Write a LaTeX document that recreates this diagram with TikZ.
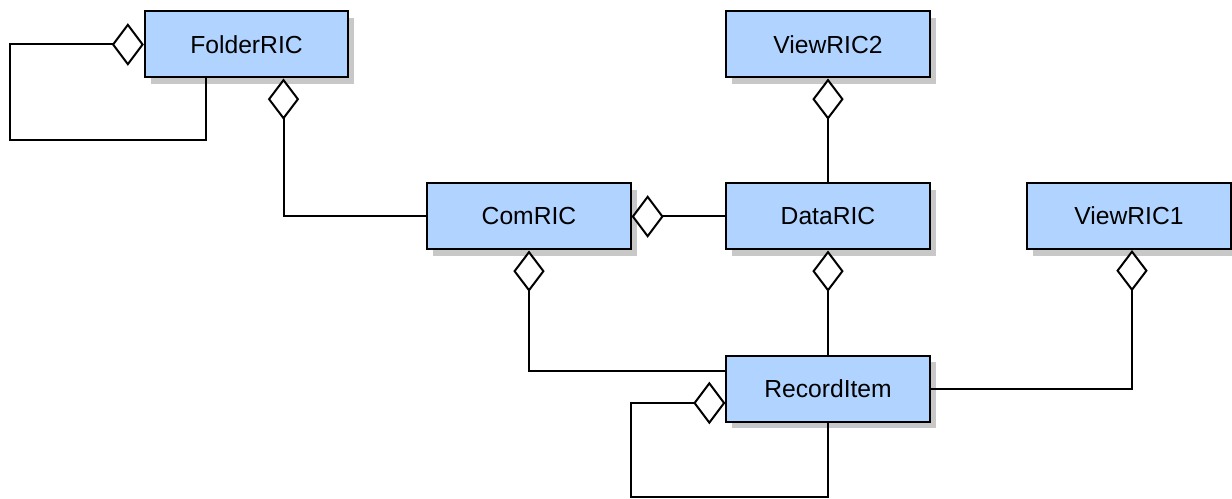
\documentclass[tikz,border=0pt]{standalone}
\usepackage{fontspec}
\setmainfont{Liberation Sans}
\usetikzlibrary{arrows.meta,shadows,calc}
\definecolor{boxblue}{RGB}{176,212,255}
\definecolor{shadowgray}{RGB}{200,200,200}
\tikzset{
  cls/.style={draw=black, line width=1.5pt, fill=boxblue,
    minimum width=152.5pt, minimum height=49.5pt, inner sep=0pt,
    font=\fontsize{18.5}{22}\selectfont,
    drop shadow={shadow xshift=4.5pt, shadow yshift=-5pt, fill=shadowgray, opacity=1}},
  link/.style={draw=black, line width=1.5pt},
  vd/.tip={Diamond[length=31pt, width=23.5pt, fill=white, line width=1.5pt]},
  hd/.tip={Diamond[length=24pt, width=32pt, fill=white, line width=1.5pt]},
}
\begin{document}
\begin{tikzpicture}[x=0.75pt, y=-0.75pt]
\useasboundingbox (0,0) rectangle (1232,499);
\node[cls] (FolderRIC) at (246.5,44.5) {FolderRIC};
\node[cls] (ViewRIC2) at (828,44.5) {ViewRIC2};
\node[cls] (ComRIC) at (529,216.5) {ComRIC};
\node[cls] (DataRIC) at (828,216.5) {DataRIC};
\node[cls] (ViewRIC1) at (1129,216) {ViewRIC1};
\node[cls] (RecordItem) at (828,388.5) {RecordItem};
\coordinate (loopA) at (10,140);
\coordinate (loopB) at (631,497);
% FolderRIC self association
\draw[link,-hd] ($(FolderRIC.south west)+(62,0)$) |- (loopA) |- (FolderRIC.west);
% FolderRIC -- ComRIC
\draw[link,vd-] ($(FolderRIC.south)+(37,0)$) |- (ComRIC.west);
% ComRIC -- DataRIC
\draw[link,hd-] (ComRIC.east) -- (DataRIC.west);
% ViewRIC2 -- DataRIC
\draw[link,vd-] (ViewRIC2.south) -- (DataRIC.north);
% ComRIC -- RecordItem
\draw[link,vd-] (ComRIC.south) |- ($(RecordItem.west)+(0,-18)$);
% DataRIC -- RecordItem
\draw[link,vd-] (DataRIC.south) -- (RecordItem.north);
% ViewRIC1 -- RecordItem
\draw[link,vd-] ($(ViewRIC1.south)+(3,0)$) |- (RecordItem.east);
% RecordItem self association
\draw[link,-hd] (RecordItem.south) |- (loopB) |- ($(RecordItem.west)+(0,14.5)$);
\end{tikzpicture}
\end{document}
